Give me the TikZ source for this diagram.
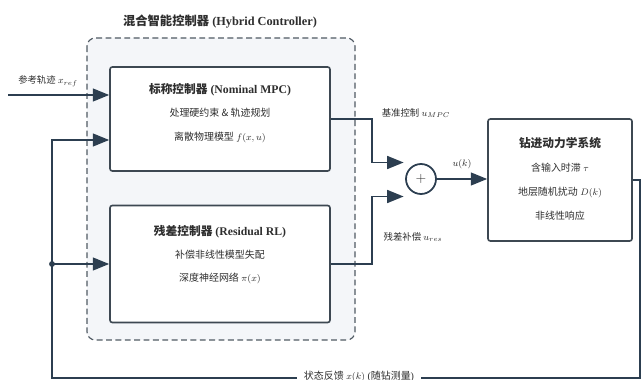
\documentclass[tikz,border=0pt]{standalone}
\usepackage{fontspec}
\setmainfont{Liberation Serif}
\newfontfamily\cjk{Noto Sans CJK SC}
\usepackage{tikz}
\usetikzlibrary{arrows.meta, calc, positioning, backgrounds}

\definecolor{linecol}{HTML}{2C3E50}
\definecolor{boxcol}{HTML}{3D4852}
\definecolor{groupfill}{HTML}{F4F6F9}
\definecolor{txtcol}{HTML}{2E2E2E}
\newcommand{\zh}[1]{{\cjk #1}}

\begin{document}
\begin{tikzpicture}[x=0.3cm, y=-0.3cm,
    every node/.style={text=txtcol},
    block/.style={draw=boxcol, line width=1.4pt, fill=white, rounded corners=2pt},
    ttl/.style={font=\fontsize{10}{12}\selectfont\bfseries},
    body/.style={font=\fontsize{8.5}{10}\selectfont},
    lbl/.style={font=\fontsize{8}{10}\selectfont},
    ln/.style={draw=linecol, line width=1.5pt},
    arr/.style={ln, -{Triangle[length=14pt, width=11pt]}}]
    \useasboundingbox (0,0) rectangle (64.4,38);

    % Hybrid controller group
    \draw[draw=boxcol!90, fill=groupfill, line width=1pt, dash pattern=on 5pt off 3pt, rounded corners=7pt]
        (8.7,3.8) rectangle (35.5,34.0);
    \node[font=\fontsize{10.5}{12}\selectfont\bfseries] (groupT) at (22,2.2) {\zh{混合智能控制器} (Hybrid Controller)};

    % Nominal MPC
    \node[block, minimum width=6.6cm, minimum height=3.12cm] (mpc) at (22,11.9) {};
    \node[ttl] (mpcT) at (22,9.0) {\zh{标称控制器} (Nominal MPC)};
    \node[body] (mpcA) at (22,11.3) {\zh{处理硬约束 \& 轨迹规划}};
    \node[body] (mpcB) at (22,13.7) {\zh{离散物理模型} $f(x,u)$};

    % Residual RL
    \node[block, minimum width=6.6cm, minimum height=3.51cm] (rl) at (22,26.4) {};
    \node[ttl] (rlT) at (22,23.2) {\zh{残差控制器} (Residual RL)};
    \node[body] (rlA) at (22,25.5) {\zh{补偿非线性模型失配}};
    \node[body] (rlB) at (22,27.8) {\zh{深度神经网络} $\pi(x)$};

    % Sum and plant
    \node[circle, draw=linecol, line width=1.5pt, fill=white, minimum size=0.9cm, inner sep=0pt,
        font=\fontsize{12}{12}\selectfont] (sum) at (42.1,17.9) {$+$};
    \node[block, minimum width=4.32cm, minimum height=3.66cm] (plant) at (56,18) {};
    \node[ttl] (plantT) at (56,14.3) {\zh{钻进动力学系统}};
    \node[body] (plantA) at (56,16.8) {\zh{含输入时滞} $\tau$};
    \node[body] (plantB) at (56,19.2) {\zh{地层随机扰动} $D(k)$};
    \node[body] (plantC) at (56,21.6) {\zh{非线性响应}};

    % Reference input
    \coordinate (refin) at (0.8,9.5);
    \draw[arr] (refin) -- (refin -| mpc.west);
    \node[lbl] (refL) at (4.8,8.1) {\zh{参考轨迹} $x_{ref}$};

    % Controller outputs
    \draw[arr] (mpc.east) -- ++(4.1,0) |- ($(sum.west)+(-0.15,-1.65)$);
    \draw[arr] (rl.east) -- ++(4.1,0) |- ($(sum.west)+(-0.15,1.75)$);
    \node[lbl] (mpcL) at (41.6,11.3) {\zh{基准控制} $u_{MPC}$};
    \node[lbl] (rlL) at (41.3,23.7) {\zh{残差补偿} $u_{res}$};

    % Control signal
    \draw[arr] (sum.east) -- (sum.east -| plant.west);
    \node[lbl] (ukL) at (46.2,16.4) {$u(k)$};

    % State feedback
    \coordinate (fbR) at (64.0,37.8);
    \coordinate (fbL) at (5.2,37.8);
    \coordinate (fbUp) at (5.2,14.0);
    \draw[arr] (plant.east) -| (fbR) -- (fbL) -- (fbUp) -- (fbUp -| mpc.west);
    \coordinate (fbDot) at (fbL |- rl.west);
    \draw[arr] (fbDot) -- (rl.west);
    \fill[linecol] (fbDot) circle (2.5pt);
    \node[lbl, font=\fontsize{8.5}{10}\selectfont, fill=white, inner xsep=6pt] (fbLabel) at (35.9,37.6)
        {\zh{状态反馈} $x(k)$ (\zh{随钻测量})};
\end{tikzpicture}
\end{document}
